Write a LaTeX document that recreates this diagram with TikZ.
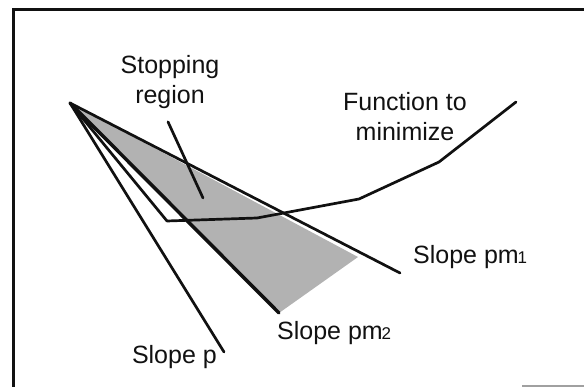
\documentclass[tikz,border=0pt]{standalone}
\usepackage{fontspec}
\setmainfont{Liberation Sans}
\usepackage{xcolor}
\usetikzlibrary{positioning,calc}
\definecolor{ink}{HTML}{111111}
\definecolor{shade}{HTML}{B2B2B2}
\definecolor{framegray}{HTML}{A0A0A0}
\tikzset{
  frameline/.style={draw=ink,line width=3pt},
  slopeline/.style={draw=ink,line width=2.7pt,line cap=round},
  boldslope/.style={draw=ink,line width=3.5pt,line cap=round},
  fnline/.style={draw=ink,line width=2.7pt,line join=round,line cap=round},
  region/.style={fill=shade,draw=none},
  lab/.style={font=\fontsize{25}{30}\selectfont,inner sep=0pt,text=ink}
}
\newcommand{\pmsub}[1]{pm\kern-0.05em{\fontsize{17}{17}\selectfont #1}}

\begin{document}
\begin{tikzpicture}[x=1pt,y=-1pt]
    \path[use as bounding box] (0,0) rectangle (584,387);

    % frame
    \draw[frameline] (13,388) -- (13,10) -- (584,10);
    \draw[draw=framegray,line width=1.2pt] (522,386) -- (584,386);

    \coordinate (apex) at (70,103);
    \coordinate (endp) at (224,352);
    \coordinate (endpmb) at (279,313);
    \coordinate (endpma) at (400,273);
    \coordinate (corner) at (358,257);

    % stopping region
    \fill[region] (apex) -- (corner) -- (endpmb) -- cycle;

    \draw[slopeline] (apex) -- (endp);
    \draw[boldslope] (apex) -- (endpmb);
    \draw[slopeline] (apex) -- (endpma);

    \draw[fnline] (apex) -- (167,221) -- (257,218) -- (359,199)
      -- (439,162) -- (516,102);

    \node[lab,align=center] (stop) at (170,82) {Stopping\\region};
    \coordinate (stoptip) at (203,198);
    \draw[slopeline] ($(stop.south)+(-2,13)$) -- (stoptip);

    \node[lab,align=center] (fn) at (405,117) {Function to\\minimize};
    \node[lab,anchor=west] (pma) at (413,257) {Slope \pmsub{1}};
    \node[lab,anchor=west] (pmb) at (277,333) {Slope \pmsub{2}};
    \node[lab,anchor=east] (sp) at (217,357) {Slope p};
  \end{tikzpicture}
\end{document}
